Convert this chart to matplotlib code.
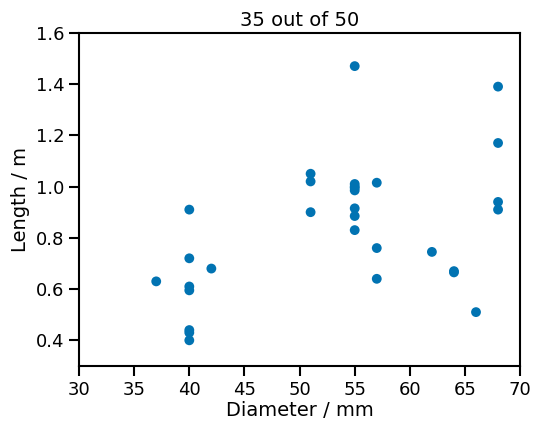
import matplotlib
matplotlib.use('Agg')
import matplotlib.pyplot as plt
import seaborn as sns

# diameter (mm) and length (m)
diameter = [37, 40, 40, 40, 40, 40, 40, 40, 42,
            51, 51, 51,
            55, 55, 55, 55, 55, 55, 55, 55,
            57, 57, 57, 62, 64, 64, 66,
            68, 68, 68, 68]
length = [0.63, 0.91, 0.72, 0.61, 0.595, 0.44, 0.43, 0.40, 0.68,
          1.05, 1.02, 0.90,
          1.47, 1.01, 1.00, 0.995, 0.985, 0.915, 0.885, 0.83,
          1.015, 0.76, 0.64, 0.745, 0.67, 0.665, 0.51,
          1.39, 1.17, 0.94, 0.91]
title = "35 out of 50"

sns.set_theme(context='talk', style='ticks', palette='colorblind')
plt.rcParams['font.family'] = ['DejaVu Sans']
for k in ['text.color', 'axes.labelcolor', 'xtick.color', 'ytick.color', 'axes.edgecolor']:
    plt.rcParams[k] = 'black'

fig = plt.figure(figsize=(5.34, 4.26), dpi=100)
ax = fig.add_axes([0.148, 0.141, 0.826, 0.782])
ax.scatter(diameter, length, s=50, color='#0173b2', edgecolor='none', zorder=3)
ax.set_xlim(30, 70)
ax.set_ylim(0.3, 1.6)
ax.set_xticks(range(30, 71, 5))
ax.set_yticks([0.4, 0.6, 0.8, 1.0, 1.2, 1.4, 1.6])
ax.set_xlabel('Diameter / mm', fontsize=14, labelpad=2)
ax.set_ylabel('Length / m', fontsize=14, labelpad=4)
ax.set_title(title, fontsize=14, pad=5)
ax.tick_params(labelsize=13, length=7, width=1.5)
for s in ax.spines.values():
    s.set_linewidth(1.5)

fig.savefig('out.png', dpi=100)
